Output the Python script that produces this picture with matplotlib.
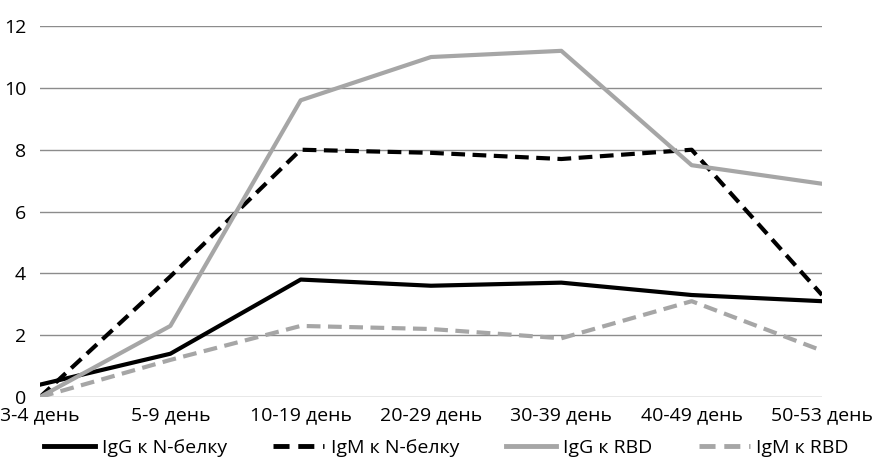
import numpy as np
import matplotlib as mpl
from matplotlib import pyplot as plt

plt.rcParams['font.family'] = ['Open Sans', 'DejaVu Sans']
plt.rcParams.update({'font.size': 14})

days = ['3-4 день', '5-9 день', '10-19 день', '20-29 день', '30-39 день', '40-49 день', '50-53 день']
igg_n = [0.4, 1.4, 3.8, 3.6, 3.7, 3.3, 3.1]
igm_n = [0.0, 3.9, 8.0, 7.9, 7.7, 8.0, 3.3]
igg_rbd = [0.0, 2.3, 9.6, 11.0, 11.2, 7.5, 6.9]
igm_rbd = [0.0, 1.2, 2.3, 2.2, 1.9, 3.1, 1.5]

fig = plt.figure(figsize=(8.74, 4.68), dpi=100)
ax = fig.add_axes([0.0458, 0.1517, 0.8947, 0.7925])

x = np.arange(len(days))
grey = '#a6a6a6'
ax.plot(x, igg_n, color='black', lw=3, label='IgG к N-белку')
ax.plot(x, igm_n, color='black', lw=3, ls=(0, (3.3, 1.8)), label='IgM к N-белку')
ax.plot(x, igg_rbd, color=grey, lw=3, label='IgG к RBD')
ax.plot(x, igm_rbd, color=grey, lw=3, ls=(0, (3.3, 1.8)), label='IgM к RBD')

ax.set_xlim(0, len(days) - 1)
ax.set_ylim(0, 12)
ax.set_yticks(np.arange(0, 13, 2))
ax.set_xticks(x)
ax.set_xticklabels(days)
ax.yaxis.grid(True, color='#8c8c8c', lw=1)
ax.set_axisbelow(True)
for s in ['top', 'right', 'left', 'bottom']:
    ax.spines[s].set_visible(False)
ax.tick_params(length=0)
ax.tick_params(axis='y', pad=10)
ax.tick_params(axis='x', pad=7)

leg = ax.legend(loc='center', bbox_to_anchor=(0.52, -0.138), ncol=4, frameon=False,
                handlelength=2.6, columnspacing=2.4, handletextpad=0.35, fontsize=14,
                borderpad=0, borderaxespad=0)
for h in leg.get_lines():
    h.set_linewidth(3.5)

plt.savefig('out.png', dpi=100)
